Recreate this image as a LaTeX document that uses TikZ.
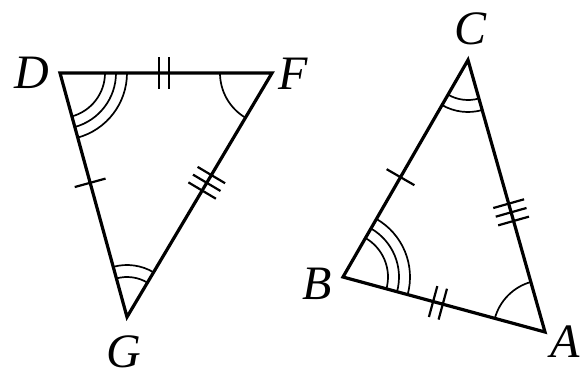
\documentclass[tikz,border=0pt]{standalone}
\usepackage{fontspec}
\setmainfont{Liberation Serif}
\usetikzlibrary{angles}

\begin{document}
\begin{tikzpicture}[
  x=1pt, y=-1pt,
  side/.style={line width=3.2pt},
  arcline/.style={draw, line width=1.7pt},
  tickline/.style={line width=2.2pt},
  vlabel/.style={font=\fontsize{48}{48}\selectfont\itshape, inner sep=0pt},
  tickone/.pic={\draw[tickline] (0,-16) -- (0,16);},
  ticktwo/.pic={\draw[tickline] (-5,-16) -- (-5,16) (5,-16) -- (5,16);},
  tickthree/.pic={\draw[tickline] (-9,-16) -- (-9,16) (0,-16) -- (0,16) (9,-16) -- (9,16);}
]
  \useasboundingbox (0,0) rectangle (586,381);

  \coordinate (D) at (60,73);
  \coordinate (F) at (272,73);
  \coordinate (G) at (127,317);
  \coordinate (C) at (468,60);
  \coordinate (B) at (343,277);
  \coordinate (A) at (545,332);

  \node[vlabel] (lD) at (32,73) {D};
  \node[vlabel] (lF) at (293,74) {F};
  \node[vlabel] (lG) at (124,352) {G};
  \node[vlabel] (lC) at (471,29) {C};
  \node[vlabel] (lB) at (317,284) {B};
  \node[vlabel] (lA) at (565,342) {A};

  \draw[side] (D) -- (F) -- (G) -- cycle;
  \draw[side] (C) -- (A) -- (B) -- cycle;

  \path (D) -- (F) pic[pos=.49, sloped] {ticktwo};
  \path (D) -- (G) pic[pos=.45, sloped] {tickone};
  \path (F) -- (G) pic[pos=.45, sloped] {tickthree};
  \path (C) -- (B) pic[pos=.54, sloped] {tickone};
  \path (C) -- (A) pic[pos=.56, sloped] {tickthree};
  \path (B) -- (A) pic[pos=.47, sloped] {ticktwo};

  \pic[arcline, angle radius=45pt] {angle = G--D--F};
  \pic[arcline, angle radius=56pt] {angle = G--D--F};
  \pic[arcline, angle radius=67pt] {angle = G--D--F};
  \pic[arcline, angle radius=52pt] {angle = D--F--G};
  \pic[arcline, angle radius=40pt] {angle = F--G--D};
  \pic[arcline, angle radius=52pt] {angle = F--G--D};

  \pic[arcline, angle radius=45pt] {angle = A--B--C};
  \pic[arcline, angle radius=56pt] {angle = A--B--C};
  \pic[arcline, angle radius=67pt] {angle = A--B--C};
  \pic[arcline, angle radius=52pt] {angle = C--A--B};
  \pic[arcline, angle radius=40pt] {angle = B--C--A};
  \pic[arcline, angle radius=52pt] {angle = B--C--A};
\end{tikzpicture}
\end{document}
